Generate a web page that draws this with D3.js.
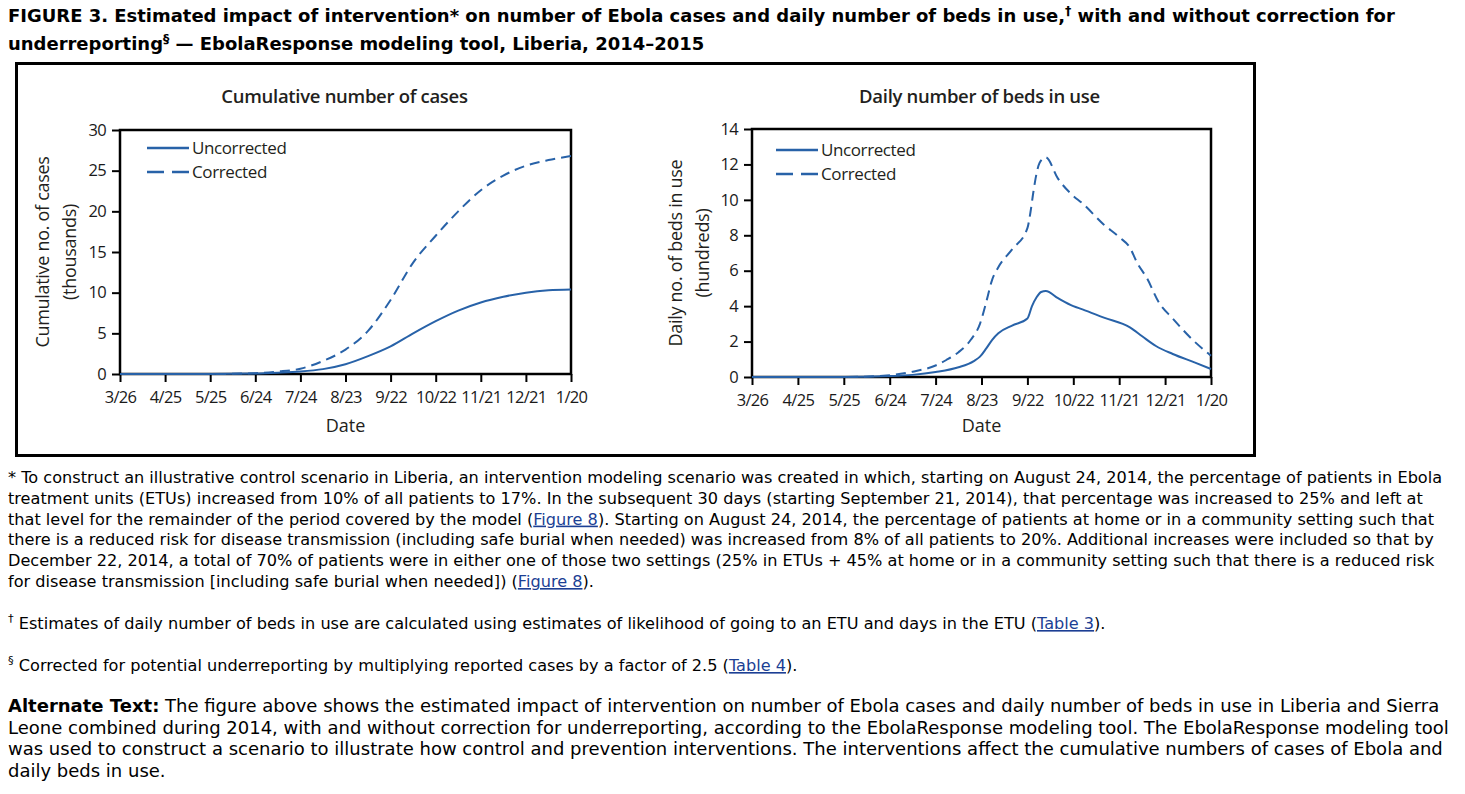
<!DOCTYPE html>
<html>
<head>
<meta charset="utf-8">
<script src="https://cdn.jsdelivr.net/npm/d3@7"></script>
<style>
body { margin: 0; background: #fff; }
</style>
</head>
<body>
<div id="page"></div>
<script>
// x axis: days since 3/26/2014, ticks every 30 days
var tickDays = [0, 30, 60, 90, 120, 150, 180, 210, 240, 270, 300];
var tickLabels = ["3/26", "4/25", "5/25", "6/24", "7/24", "8/23", "9/22", "10/22", "11/21", "12/21", "1/20"];

// cumulative cases (thousands)
var caseDays = [0, 30, 60, 90, 105, 120, 135, 150, 165, 180, 195, 210, 225, 240, 255, 270, 285, 300];
var casesUncorrected = [0, 0, 0, 0.05, 0.15, 0.3, 0.6, 1.2, 2.2, 3.4, 5.0, 6.5, 7.8, 8.8, 9.5, 10.0, 10.3, 10.4];
var casesCorrected = [0, 0, 0, 0.1, 0.3, 0.65, 1.6, 3.0, 5.3, 9.1, 13.7, 17.0, 20.0, 22.6, 24.4, 25.6, 26.3, 26.8];

// daily beds in use (hundreds)
var bedDaysU = [0, 30, 60, 90, 105, 120, 135, 145, 149, 153, 157, 161, 170, 180, 183, 186, 189, 192, 200, 210, 216, 230, 247, 255, 264, 275, 290, 300];
var bedsUncorrected = [0, 0, 0, 0.05, 0.12, 0.28, 0.55, 0.9, 1.15, 1.6, 2.1, 2.47, 2.9, 3.3, 4.0, 4.5, 4.8, 4.85, 4.45, 4.0, 3.82, 3.35, 2.8, 2.3, 1.75, 1.3, 0.8, 0.45];
var bedDaysC = [0, 30, 60, 90, 105, 120, 127, 135, 143, 149, 153, 157, 161, 170, 180, 182, 184, 186, 188, 192, 200, 209, 216, 230, 240, 247, 252, 258, 266, 275, 288, 300];
var bedsCorrected = [0, 0, 0, 0.1, 0.3, 0.65, 0.96, 1.4, 2.1, 3.0, 4.2, 5.5, 6.2, 7.2, 8.4, 9.3, 10.5, 11.5, 12.1, 12.4, 11.2, 10.3, 9.8, 8.6, 7.9, 7.3, 6.4, 5.6, 4.2, 3.3, 2.1, 1.2];

var caseTicks = [0, 5, 10, 15, 20, 25, 30];
var bedTicks = [0, 2, 4, 6, 8, 10, 12, 14];

var blue = "#2862a8";
var chartFont = "'Open Sans', sans-serif";
var pageFont = "'DejaVu Sans', Verdana, sans-serif";

var svg = d3.select("#page").append("svg")
    .attr("width", 1465)
    .attr("height", 794);

// ---- heading ----
var titleLines = [
  ["FIGURE 3. Estimated impact of intervention* on number of Ebola cases and daily number of beds in use,", {sup: "†"}, " with and without correction for"],
  ["underreporting", {sup: "§"}, " — EbolaResponse modeling tool, Liberia, 2014–2015"]
];

function writeLines(lines, x, y0, lh, size, weight) {
  var g = svg.append("g")
      .style("font-family", pageFont)
      .style("font-size", size + "px")
      .style("font-weight", weight)
      .style("fill", "#000");
  lines.forEach(function(parts, i) {
    var t = g.append("text").attr("x", x).attr("y", y0 + i * lh);
    var back = 0;
    parts.forEach(function(p) {
      var s, isSup = false;
      if (typeof p === "string") {
        s = t.append("tspan").text(p);
      } else if (p.sup) {
        isSup = true;
        s = t.append("tspan").attr("class", "sup").attr("dy", -size * 0.45)
            .style("font-size", (size * 0.7) + "px").text(p.sup);
      } else if (p.link) {
        s = t.append("tspan").style("fill", "#1c3f94").style("text-decoration", "underline").text(p.link);
      } else if (p.bold) {
        s = t.append("tspan").style("font-weight", "bold").text(p.bold);
      }
      if (back) { s.attr("dy", back); back = 0; }
      if (isSup) back = size * 0.45;
    });
  });
  return g;
}

// fit font size so the first line spans a given width
function fitSize(g, target) {
  var n = g.select("text").node();
  var w = n.getComputedTextLength();
  var s = parseFloat(g.style("font-size"));
  var ns = s * target / w;
  g.style("font-size", ns + "px");
  g.selectAll("tspan.sup").style("font-size", (ns * 0.7) + "px");
}

var head = writeLines(titleLines, 8, 22, 28, 16, "bold");
fitSize(head, 1387);

// ---- figure box ----
svg.append("rect")
    .attr("x", 16.5).attr("y", 63.5)
    .attr("width", 1238).attr("height", 392)
    .attr("fill", "none").attr("stroke", "#000").attr("stroke-width", 3);

function panel(cfg) {
  var x = d3.scaleLinear().domain([0, 300]).range([cfg.left, cfg.right]);
  var y = d3.scaleLinear().domain([0, cfg.ymax]).range([cfg.bottom, cfg.top]);
  var g = svg.append("g").style("font-family", chartFont);

  g.append("text")
      .attr("x", (cfg.left + cfg.right) / 2 + cfg.titleDx)
      .attr("y", 103)
      .attr("text-anchor", "middle")
      .style("font-size", "18.5px")
      .style("font-weight", 600)
      .style("letter-spacing", "-0.3px")
      .style("fill", "#231f20")
      .text(cfg.title);

  var xa = g.append("g")
      .attr("transform", "translate(0," + cfg.bottom + ")")
      .call(d3.axisBottom(x).tickValues(tickDays)
        .tickFormat(function(d, i) { return tickLabels[i]; })
        .tickSize(8).tickPadding(9));
  var ya = g.append("g")
      .attr("transform", "translate(" + cfg.left + ",0)")
      .call(d3.axisLeft(y).tickValues(cfg.ticks).tickSize(8).tickPadding(6));
  [xa, ya].forEach(function(a) {
    a.select(".domain").remove();
    a.selectAll("line").attr("stroke", "#000").attr("stroke-width", 2);
    a.selectAll("text")
        .style("font-family", chartFont)
        .style("font-size", "16.5px")
        .style("letter-spacing", "-0.7px")
        .style("fill", "#1a1a1a");
  });

  g.append("rect")
      .attr("x", cfg.left).attr("y", cfg.top)
      .attr("width", cfg.right - cfg.left).attr("height", cfg.bottom - cfg.top)
      .attr("fill", "none").attr("stroke", "#000").attr("stroke-width", 2.5);

  var line = d3.line()
      .x(function(d) { return x(d[0]); })
      .y(function(d) { return y(d[1]); })
      .curve(d3.curveMonotoneX);

  g.append("path")
      .datum(d3.zip(cfg.daysC, cfg.corrected))
      .attr("d", line)
      .attr("fill", "none").attr("stroke", blue).attr("stroke-width", 2)
      .attr("stroke-dasharray", "10,6");
  g.append("path")
      .datum(d3.zip(cfg.daysU, cfg.uncorrected))
      .attr("d", line)
      .attr("fill", "none").attr("stroke", blue).attr("stroke-width", 2);

  // legend
  var lx = cfg.left + cfg.legendDx;
  var ly = cfg.top + cfg.legendDy;
  g.append("line").attr("x1", lx).attr("x2", lx + 42).attr("y1", ly).attr("y2", ly)
      .attr("stroke", blue).attr("stroke-width", 2.5);
  g.append("line").attr("x1", lx).attr("x2", lx + 42).attr("y1", ly + 24).attr("y2", ly + 24)
      .attr("stroke", blue).attr("stroke-width", 2.5).attr("stroke-dasharray", "17,8");
  ["Uncorrected", "Corrected"].forEach(function(s, i) {
    g.append("text")
        .attr("x", lx + 45).attr("y", ly + i * 24 + 6)
        .style("font-size", "17px")
        .style("letter-spacing", "-0.4px")
        .style("fill", "#231f20")
        .text(s);
  });

  g.append("text")
      .attr("x", (cfg.left + cfg.right) / 2)
      .attr("y", 432)
      .attr("text-anchor", "middle")
      .style("font-size", "18px")
      .style("fill", "#231f20")
      .text("Date");

  var cy = (cfg.top + cfg.bottom) / 2;
  cfg.ylabel.forEach(function(s, i) {
    g.append("text")
        .attr("transform", "translate(" + (cfg.ylabelX + i * 27) + "," + cy + ") rotate(-90)")
        .attr("text-anchor", "middle")
        .style("font-size", "18px")
        .style("letter-spacing", "-0.3px")
        .style("fill", "#231f20")
        .text(s);
  });
}

panel({
  left: 120, right: 571, top: 130, bottom: 374, ymax: 30, ticks: caseTicks,
  title: "Cumulative number of cases", titleDx: -1,
  daysU: caseDays, uncorrected: casesUncorrected,
  daysC: caseDays, corrected: casesCorrected,
  legendDx: 27, legendDy: 18, ylabel: ["Cumulative no. of cases", "(thousands)"], ylabelX: 49
});

panel({
  left: 752, right: 1211, top: 129, bottom: 377, ymax: 14, ticks: bedTicks,
  title: "Daily number of beds in use", titleDx: -2,
  daysU: bedDaysU, uncorrected: bedsUncorrected,
  daysC: bedDaysC, corrected: bedsCorrected,
  legendDx: 24, legendDy: 21, ylabel: ["Daily no. of beds in use", "(hundreds)"], ylabelX: 682
});

// ---- footnotes ----
var noteLines = [
  ["* To construct an illustrative control scenario in Liberia, an intervention modeling scenario was created in which, starting on August 24, 2014, the percentage of patients in Ebola"],
  ["treatment units (ETUs) increased from 10% of all patients to 17%. In the subsequent 30 days (starting September 21, 2014), that percentage was increased to 25% and left at"],
  ["that level for the remainder of the period covered by the model (", {link: "Figure 8"}, "). Starting on August 24, 2014, the percentage of patients at home or in a community setting such that"],
  ["there is a reduced risk for disease transmission (including safe burial when needed) was increased from 8% of all patients to 20%. Additional increases were included so that by"],
  ["December 22, 2014, a total of 70% of patients were in either one of those two settings (25% in ETUs + 45% at home or in a community setting such that there is a reduced risk"],
  ["for disease transmission [including safe burial when needed]) (", {link: "Figure 8"}, ")."]
];
var notes = writeLines(noteLines, 8, 483, 20.8, 15, "normal");
fitSize(notes, 1435);
var size = parseFloat(notes.style("font-size"));

writeLines([[{sup: "†"}, " Estimates of daily number of beds in use are calculated using estimates of likelihood of going to an ETU and days in the ETU (", {link: "Table 3"}, ")."]], 8, 629, 21, size, "normal");
writeLines([[{sup: "§"}, " Corrected for potential underreporting by multiplying reported cases by a factor of 2.5 (", {link: "Table 4"}, ")."]], 8, 671, 21, size, "normal");

var altLines = [
  [{bold: "Alternate Text:"}, " The figure above shows the estimated impact of intervention on number of Ebola cases and daily number of beds in use in Liberia and Sierra"],
  ["Leone combined during 2014, with and without correction for underreporting, according to the EbolaResponse modeling tool. The EbolaResponse modeling tool"],
  ["was used to construct a scenario to illustrate how control and prevention interventions. The interventions affect the cumulative numbers of cases of Ebola and"],
  ["daily beds in use."]
];
var alt = writeLines(altLines, 8, 712, 21.6, 16, "normal");
fitSize(alt, 1432);
</script>
</body>
</html>
